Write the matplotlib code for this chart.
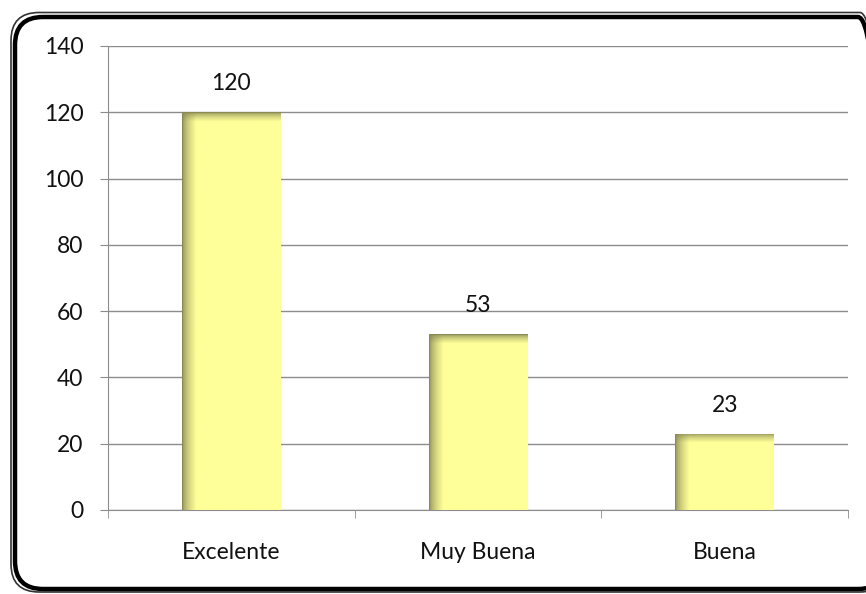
import numpy as np
import matplotlib
matplotlib.use("Agg")
import matplotlib.pyplot as plt
from matplotlib.patches import FancyBboxPatch

# Chart data
categories = ["Excelente", "Muy Buena", "Buena"]
values = [120, 53, 23]
y_ticks = [0, 20, 40, 60, 80, 100, 120, 140]

plt.rcParams["font.family"] = ["Lato", "DejaVu Sans"]

fig = plt.figure(figsize=(8.66, 5.94), dpi=100)
W, H = 866, 594

# rounded frame around the whole chart (runs off the right edge)
def frame(x0, y0, x1, y1, lw, color, r=28):
    p = FancyBboxPatch((x0 / W, 1 - y1 / H), (x1 - x0) / W, (y1 - y0) / H,
                       boxstyle="round,pad=0,rounding_size=%f" % (r / W),
                       transform=fig.transFigure, fill=False, lw=lw,
                       edgecolor=color, mutation_aspect=W / H)
    fig.patches.append(p)

frame(11, 12.5, 888, 592, 1.2, "#333333")
frame(15, 17, 886, 589, 3.2, "black")

ax = fig.add_axes([108 / W, 1 - 510 / H, (848 - 108) / W, (510 - 46) / H])
x = np.arange(len(categories))
bars = ax.bar(x, values, width=0.4, color="#ffff99", zorder=2)

# gradient shading: dark olive on the left and top edges
dark = np.array([138, 138, 84]) / 255
light = np.array([255, 255, 153]) / 255
px_per_unit = (510 - 46) / 140
bar_px = 98
for b in bars:
    h = b.get_height()
    rows = max(int(h * px_per_unit), 2)
    cols = bar_px
    c = np.arange(cols)[None, :]
    r = np.arange(rows)[:, None]
    t_left = np.clip(c / 14.0, 0, 1)
    t_top = np.clip(r / 9.0, 0, 1)
    t = (t_left * t_top) ** 0.6
    img = dark[None, None, :] + (light - dark)[None, None, :] * t[:, :, None]
    x0 = b.get_x()
    im = ax.imshow(img, extent=(x0, x0 + b.get_width(), 0, h), aspect="auto",
                   origin="upper", zorder=3, interpolation="bilinear")
    im.set_clip_path(b)
    ax.annotate(str(int(h)), (x0 + b.get_width() / 2, h), xytext=(0, 13),
                textcoords="offset points", ha="center", va="bottom",
                fontsize=16.5, color="#111111")

ax.set_xlim(-0.5, len(categories) - 0.5)
ax.set_ylim(0, 140)
ax.set_yticks(y_ticks)
ax.yaxis.grid(True, color="#8c8c8c", lw=1, zorder=0)
ax.set_axisbelow(True)

ax.set_xticks(x)
ax.set_xticklabels(categories, fontsize=16.5, color="#111111")
ax.set_xticks(np.arange(len(categories) + 1) - 0.5, minor=True)
ax.tick_params(axis="x", which="major", length=0, pad=23)
ax.tick_params(axis="x", which="minor", length=5.8, color="#8c8c8c", direction="out")
ax.tick_params(axis="y", length=5.8, color="#8c8c8c", pad=12, labelsize=16.5,
               labelcolor="#111111")

for s in ["top", "right"]:
    ax.spines[s].set_visible(False)
for s in ["left", "bottom"]:
    ax.spines[s].set_color("#8c8c8c")

fig.savefig("out.png", dpi=100)
